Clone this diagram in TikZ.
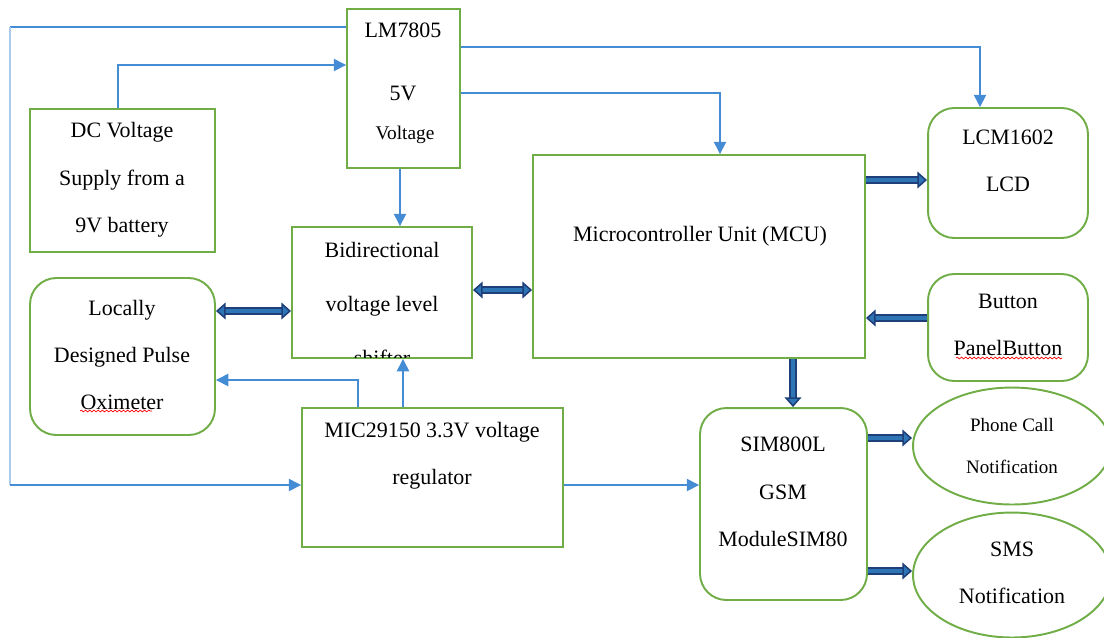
\documentclass[tikz,border=0pt]{standalone}
\usepackage{fontspec}
\setmainfont{Liberation Serif}
\usetikzlibrary{arrows.meta,shapes.geometric,decorations.pathmorphing}
\definecolor{boxgreen}{RGB}{112,173,71}
\definecolor{feedblue}{RGB}{68,140,212}
\definecolor{busdark}{RGB}{31,63,122}
\definecolor{busfill}{RGB}{46,117,182}
\tikzset{
  blk/.style={draw=boxgreen, line width=1.1pt},
  rblk/.style={blk, rounded corners=15pt},
  lbl/.style={align=center, inner sep=0pt, font=\fontsize{12.5}{27}\selectfont},
  feed/.style={draw=feedblue, line width=0.8pt, -{Triangle[length=7pt,width=7pt]}},
  bus/.style={draw=busdark, line width=0.9pt, double=busfill, double distance=2.6pt},
  bt/.tip={Triangle[length=5.5pt,width=9.5pt,fill=busfill]},
  spell/.style={red, line width=0.4pt, decorate, decoration={snake,amplitude=0.5pt,segment length=2.4pt}}
}

\begin{document}
\begin{tikzpicture}[x=0.02cm, y=-0.02cm]
\useasboundingbox (0,0) rectangle (1104,637);
\clip (0,0) rectangle (1104,637);
% blocks
\node[blk, minimum width=2.26cm, minimum height=3.18cm] (lm) at (403.5,88.5) {};
\node[blk, minimum width=3.70cm, minimum height=2.86cm] (dc) at (122.5,180.5) {};
\node[blk, minimum width=3.60cm, minimum height=2.62cm] (bid) at (382,292.5) {};
\node[rblk, minimum width=3.70cm, minimum height=3.14cm] (oxi) at (122.5,356.5) {};
\node[blk, minimum width=6.64cm, minimum height=4.06cm] (mcu) at (699,256.5) {};
\node[rblk, minimum width=3.20cm, minimum height=2.60cm] (lcd) at (1008,173) {};
\node[rblk, minimum width=3.20cm, minimum height=2.14cm] (btn) at (1008,327.5) {};
\node[blk, minimum width=5.22cm, minimum height=2.78cm] (mic) at (432.5,477.5) {};
\node[rblk, minimum width=3.34cm, minimum height=3.84cm] (sim) at (783.5,504) {};
\node[blk, ellipse, minimum width=3.96cm, minimum height=2.34cm] (call) at (1012,446) {};
\node[blk, ellipse, minimum width=3.96cm, minimum height=2.50cm] (sms) at (1012,575) {};
% texts
\node[lbl] (lmname) at (403,30) {LM7805};
\node[lbl] (lmfive) at (403,93) {5V};
\node[lbl, font=\fontsize{11}{12}\selectfont] (lmvolt) at (405,135) {Voltage};
\node[lbl] (dctxt) at (122,180) {DC Voltage\\Supply from a\\9V battery};
\begin{scope}
  \clip (bid.north west) rectangle ([yshift=1pt]bid.south east);
  \node[lbl, font=\fontsize{12.5}{31}\selectfont] (bidtxt) at (382,304) {Bidirectional\\voltage level\\shifter};
\end{scope}
\node[lbl] (oxitxt) at (122,355) {Locally\\Designed Pulse\\Oximeter};
\node[lbl] (mcutxt) at (700,236) {Microcontroller Unit (MCU)};
\node[lbl] (lcdtxt) at (1008,161) {LCM1602\\LCD};
\node[lbl] (btntxt) at (1008,325) {Button\\PanelButton};
\node[lbl] (mictxt) at (432,456) {MIC29150 3.3V voltage\\regulator};
\node[lbl] (simtxt) at (783,492) {SIM800L\\GSM\\ModuleSIM80};
\node[lbl, font=\fontsize{10.8}{23.5}\selectfont] (calltxt) at (1012,446) {Phone Call\\Notification};
\node[lbl] (smstxt) at (1012,573) {SMS\\Notification};
\draw[spell] (80,411) -- (152,411);
\draw[spell] (956,358) -- (1062,358);
% supply lines
\coordinate (lt) at (10,27);
\coordinate (lb) at (10,485);
\draw[feedblue, line width=0.8pt] (lt) -- (lm.west |- lt);
\draw[feedblue!45, line width=0.8pt] (lt) -- (lb);
\draw[feed] (lb) -- (mic.west |- lb);
\draw[feed] (dc.north -| 118,0) |- (lm.west |- 0,65);
\draw[feed] (lm.east |- 0,47) -| (lcd.north -| 980,0);
\draw[feed] (lm.east |- 0,93) -| (mcu.north -| 720,0);
\draw[feed] (lm.south -| 400,0) -- (bid.north -| 400,0);
\draw[feed] (mic.north -| 358,0) |- (oxi.east |- 0,380);
\draw[feed] (mic.north -| 403,0) -- (bid.south -| 403,0);
\draw[feed] (mic.east |- 0,485) -- (sim.west |- 0,485);
% data buses
\draw[bus, bt-bt] (oxi.east |- 0,311) -- (bid.west |- 0,311);
\draw[bus, bt-bt] (bid.east |- 0,290) -- (mcu.west |- 0,290);
\draw[bus, -bt] (mcu.east |- 0,180) -- (lcd.west |- 0,180);
\draw[bus, -bt] (btn.west |- 0,318) -- (mcu.east |- 0,318);
\draw[bus, -bt] (mcu.south -| 793,0) -- (sim.north -| 793,0);
\draw[bus, -bt] (sim.east |- 0,438) -- (call.west |- 0,438);
\draw[bus, -bt] (sim.east |- 0,571) -- (sms.west |- 0,571);
\end{tikzpicture}
\end{document}
